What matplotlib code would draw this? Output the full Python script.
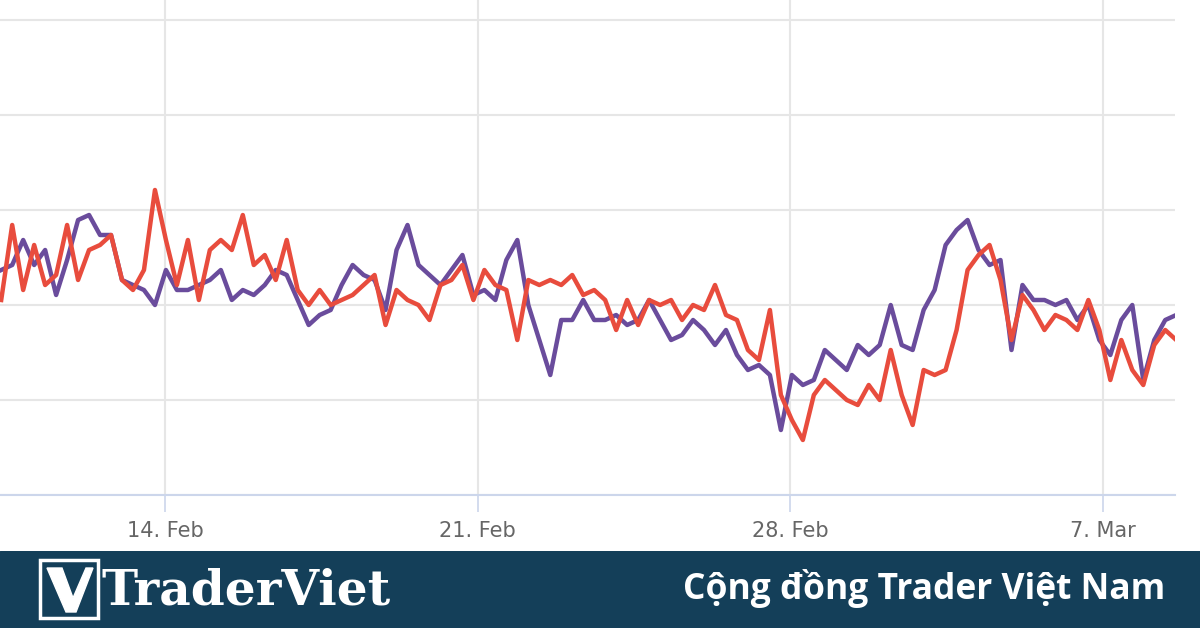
"""Grafico de dos series con banner TraderViet."""

import numpy as np
import pandas as pd
import matplotlib
matplotlib.use("Agg")
import matplotlib.pyplot as plt
import matplotlib.dates as mdates
from matplotlib.patches import Rectangle, Polygon

# Valores (unidades arbitrarias, sin etiquetas en el eje y)
purple = [225, 230, 255, 230, 245, 200, 235, 275, 280, 260, 260, 215, 210, 205, 190, 225,
          205, 205, 210, 215, 225, 195, 205, 200, 210, 225, 220, 195, 170, 180, 185, 210,
          230, 220, 215, 185, 245, 270, 230, 220, 210, 225, 240, 200, 205, 195, 235, 255,
          190, 155, 120, 175, 175, 195, 175, 175, 180, 170, 175, 195, 175, 155, 160, 175,
          165, 150, 165, 140, 125, 130, 120, 65, 120, 110, 115, 145, 135, 125, 150, 140,
          150, 190, 150, 145, 185, 205, 250, 265, 275, 245, 230, 235, 145, 210, 195, 195,
          190, 195, 175, 190, 155, 140, 175, 190, 115, 155, 175, 180]
red = [195, 270, 205, 250, 210, 220, 270, 215, 245, 250, 260, 215, 205, 225, 305, 255,
       210, 255, 195, 245, 255, 245, 280, 230, 240, 215, 255, 205, 190, 205, 190, 195,
       200, 210, 220, 170, 205, 195, 190, 175, 210, 215, 230, 195, 225, 210, 205, 155,
       215, 210, 215, 210, 220, 200, 205, 195, 165, 195, 170, 195, 190, 195, 175, 190,
       185, 210, 180, 175, 145, 135, 185, 100, 75, 55, 100, 115, 105, 95, 90, 110,
       95, 145, 100, 70, 125, 120, 125, 165, 225, 240, 250, 215, 155, 200, 185, 165,
       180, 175, 165, 195, 165, 115, 155, 125, 110, 150, 165, 155]

dates = pd.date_range("2022-02-10 08:00", periods=len(purple), freq="354min")
tick_dates = pd.to_datetime(["2022-02-14", "2022-02-21", "2022-02-28", "2022-03-07"])
tick_labels = ["14. Feb", "21. Feb", "28. Feb", "7. Mar"]

fig = plt.figure(figsize=(12, 6.28), dpi=100)
ax = fig.add_axes([0, 133 / 628, 1175 / 1200, 495 / 628])
ax.plot(dates, purple, color="#6a4c9c", lw=3.2, solid_joinstyle="round", zorder=3)
ax.plot(dates, red, color="#e84c3d", lw=3.2, solid_joinstyle="round", zorder=4)

ax.set_ylim(0, 495)
ax.set_yticks(np.arange(0, 480, 95))
ax.set_xlim(mdates.date2num(tick_dates[0]) - 165 / 44.67,
            mdates.date2num(tick_dates[0]) + 1010 / 44.67)
ax.set_xticks(tick_dates)
ax.set_xticklabels(tick_labels)
ax.grid(True, color="#e6e6e6", lw=1.5, zorder=0)
ax.tick_params(axis="y", length=0, labelleft=False)
ax.tick_params(axis="x", length=12, width=1.2, color="#ccd6eb", labelcolor="#666666",
               labelsize=15, pad=7)
for s in ["top", "left", "right"]:
    ax.spines[s].set_visible(False)
ax.spines["bottom"].set_color("#ccd6eb")
ax.spines["bottom"].set_linewidth(1.5)

# Banner inferior
ban = fig.add_axes([0, 0, 1, 77 / 628])
ban.set_xlim(0, 1200)
ban.set_ylim(0, 77)
ban.axis("off")
ban.add_patch(Rectangle((0, 0), 1200, 77, color="#143f59"))
ban.add_patch(Rectangle((40, 10), 58, 58, facecolor="none", edgecolor="white", lw=2.5))
ban.add_patch(Polygon([(47, 60), (62, 60), (73, 30), (86, 60), (93, 60), (76, 16), (66, 16)],
                      color="white"))
ban.text(102, 37, "TraderViet", color="white", fontsize=35, fontweight="bold",
         family="DejaVu Serif", va="center", ha="left")
ban.text(1165, 39, "Cộng đồng Trader Việt Nam", color="white", fontsize=25.5,
         fontweight="bold", family="Open Sans", va="center", ha="right")

fig.savefig("out.png", dpi=100)
